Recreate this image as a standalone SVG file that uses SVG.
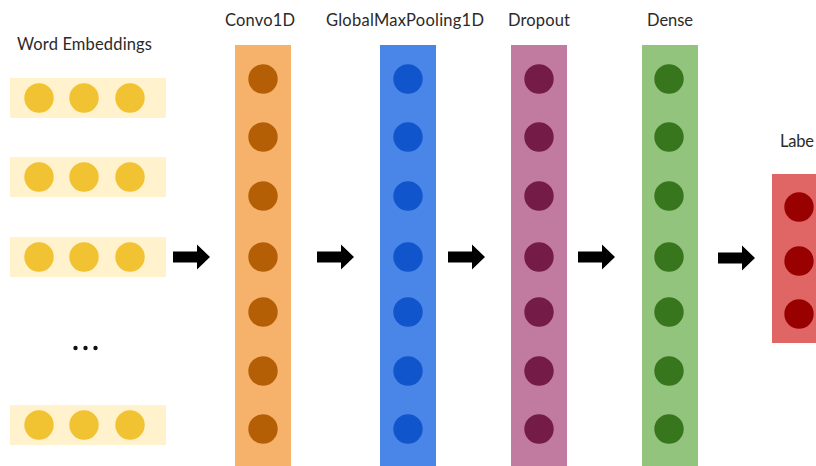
<svg xmlns="http://www.w3.org/2000/svg" width="816" height="466" viewBox="0 0 816 466">
  <style>
    .title { font-family: Lato, "Liberation Sans", sans-serif; font-size: 16.5px; fill: #2a2a2a; }
    .row { fill: #FFF2CC; }
    .row-dot { fill: #F1C232; }
    .conv { fill: #F6B26B; }
    .conv-dot { fill: #B45F06; }
    .pool { fill: #4A86E8; }
    .pool-dot { fill: #1155CC; }
    .drop { fill: #C27BA0; }
    .drop-dot { fill: #741B47; }
    .dense { fill: #93C47D; }
    .dense-dot { fill: #38761D; }
    .label { fill: #E06666; }
    .label-dot { fill: #990000; }
    .arrow { fill: #000000; }
  </style>
  <defs>
    <!-- block arrow, origin at left end of the shaft centre line -->
    <path id="block-arrow" d="M0,-5.5 H24 V-12.5 L37,0 L24,12.5 V5.5 H0 Z"/>
    <g id="emb-row">
      <rect class="row" x="10" y="-20" width="156" height="40"/>
      <circle class="row-dot" cx="39" cy="0" r="14.7"/>
      <circle class="row-dot" cx="84" cy="0" r="14.7"/>
      <circle class="row-dot" cx="130" cy="0" r="14.7"/>
    </g>
  </defs>
  <rect width="816" height="466" fill="#ffffff"/>

  <!-- input: word embeddings -->
  <g id="word-embeddings">
    <text class="title" x="17" y="50" textLength="135" lengthAdjust="spacing">Word Embeddings</text>
    <use href="#emb-row" y="98"/>
    <use href="#emb-row" y="177"/>
    <use href="#emb-row" y="257"/>
    <circle cx="75.5" cy="348" r="2.2" fill="#111"/>
    <circle cx="85.5" cy="348" r="2.2" fill="#111"/>
    <circle cx="95.5" cy="348" r="2.2" fill="#111"/>
    <use href="#emb-row" y="425"/>
  </g>

  <!-- Conv1D layer -->
  <g id="convo1d">
    <text class="title" x="225" y="26" textLength="70" lengthAdjust="spacing">Convo1D</text>
    <rect class="conv" x="235" y="45" width="56" height="421"/>
    <circle class="conv-dot" cx="263" cy="79" r="14.7"/>
    <circle class="conv-dot" cx="263" cy="137" r="14.7"/>
    <circle class="conv-dot" cx="263" cy="196" r="14.7"/>
    <circle class="conv-dot" cx="263" cy="257" r="14.7"/>
    <circle class="conv-dot" cx="263" cy="312" r="14.7"/>
    <circle class="conv-dot" cx="263" cy="371" r="14.7"/>
    <circle class="conv-dot" cx="263" cy="429" r="14.7"/>
  </g>

  <!-- pooling layer -->
  <g id="globalmaxpooling1d">
    <text class="title" x="326" y="26" textLength="158" lengthAdjust="spacing">GlobalMaxPooling1D</text>
    <rect class="pool" x="380" y="45" width="56" height="421"/>
    <circle class="pool-dot" cx="408" cy="79" r="14.7"/>
    <circle class="pool-dot" cx="408" cy="137" r="14.7"/>
    <circle class="pool-dot" cx="408" cy="196" r="14.7"/>
    <circle class="pool-dot" cx="408" cy="257" r="14.7"/>
    <circle class="pool-dot" cx="408" cy="312" r="14.7"/>
    <circle class="pool-dot" cx="408" cy="371" r="14.7"/>
    <circle class="pool-dot" cx="408" cy="429" r="14.7"/>
  </g>

  <!-- dropout layer -->
  <g id="dropout">
    <text class="title" x="508" y="26" textLength="62" lengthAdjust="spacing">Dropout</text>
    <rect class="drop" x="511" y="45" width="56" height="421"/>
    <circle class="drop-dot" cx="539" cy="79" r="14.7"/>
    <circle class="drop-dot" cx="539" cy="137" r="14.7"/>
    <circle class="drop-dot" cx="539" cy="196" r="14.7"/>
    <circle class="drop-dot" cx="539" cy="257" r="14.7"/>
    <circle class="drop-dot" cx="539" cy="312" r="14.7"/>
    <circle class="drop-dot" cx="539" cy="371" r="14.7"/>
    <circle class="drop-dot" cx="539" cy="429" r="14.7"/>
  </g>

  <!-- dense layer -->
  <g id="dense">
    <text class="title" x="647" y="26" textLength="46" lengthAdjust="spacing">Dense</text>
    <rect class="dense" x="642" y="45" width="56" height="421"/>
    <circle class="dense-dot" cx="669" cy="79" r="14.7"/>
    <circle class="dense-dot" cx="669" cy="137" r="14.7"/>
    <circle class="dense-dot" cx="669" cy="196" r="14.7"/>
    <circle class="dense-dot" cx="669" cy="257" r="14.7"/>
    <circle class="dense-dot" cx="669" cy="312" r="14.7"/>
    <circle class="dense-dot" cx="669" cy="371" r="14.7"/>
    <circle class="dense-dot" cx="669" cy="429" r="14.7"/>
  </g>

  <!-- output labels (box runs off the right edge) -->
  <g id="label">
    <text class="title" x="780" y="147" textLength="34" lengthAdjust="spacing">Labe</text>
    <rect class="label" x="772" y="174" width="60" height="169"/>
    <circle class="label-dot" cx="799" cy="207" r="14.7"/>
    <circle class="label-dot" cx="799" cy="261" r="14.7"/>
    <circle class="label-dot" cx="799" cy="314" r="14.7"/>
  </g>

  <!-- connectors between layers -->
  <g id="connectors" class="arrow">
    <use href="#block-arrow" x="173" y="257"/>
    <use href="#block-arrow" x="317" y="257"/>
    <use href="#block-arrow" x="448" y="257"/>
    <use href="#block-arrow" x="578" y="257"/>
    <use href="#block-arrow" x="718" y="258"/>
  </g>
</svg>
